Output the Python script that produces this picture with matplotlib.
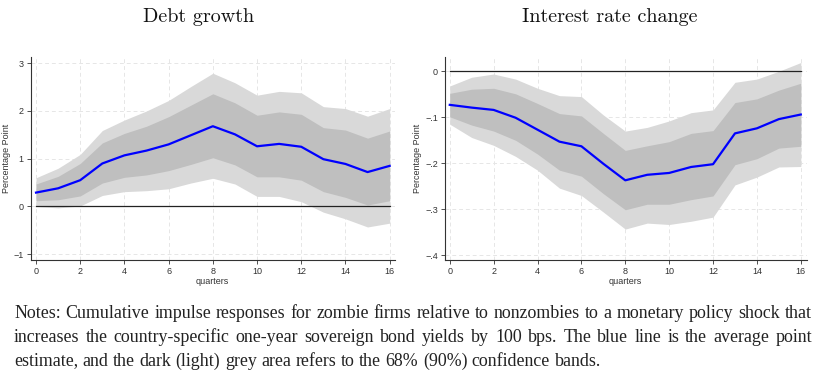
import matplotlib
matplotlib.use('Agg')
import matplotlib.pyplot as plt
import numpy as np

plt.rcParams['font.family'] = ['Liberation Sans', 'DejaVu Sans']

quarters = np.arange(17)

# Debt growth (left panel)
debt_irf = [0.29, 0.38, 0.55, 0.90, 1.07, 1.17, 1.30, 1.49, 1.68, 1.51, 1.26, 1.31, 1.25, 0.99, 0.89, 0.72, 0.85]
debt_hi68 = [0.47, 0.63, 0.90, 1.33, 1.53, 1.68, 1.88, 2.12, 2.36, 2.17, 1.91, 1.98, 1.93, 1.65, 1.60, 1.43, 1.58]
debt_lo68 = [0.12, 0.14, 0.22, 0.49, 0.61, 0.66, 0.75, 0.88, 1.02, 0.87, 0.62, 0.62, 0.55, 0.31, 0.19, 0.03, 0.12]
debt_hi90 = [0.60, 0.80, 1.09, 1.59, 1.81, 2.00, 2.22, 2.51, 2.79, 2.59, 2.33, 2.41, 2.38, 2.09, 2.05, 1.89, 2.05]
debt_lo90 = [0.00, -0.03, 0.01, 0.23, 0.31, 0.33, 0.37, 0.49, 0.59, 0.47, 0.21, 0.21, 0.10, -0.12, -0.26, -0.43, -0.35]

# Interest rate change (right panel)
rate_irf = [-0.073, -0.079, -0.084, -0.101, -0.127, -0.153, -0.163, -0.201, -0.237, -0.225, -0.221, -0.208, -0.202, -0.135, -0.124, -0.104, -0.094]
rate_hi68 = [-0.048, -0.039, -0.037, -0.049, -0.070, -0.092, -0.097, -0.135, -0.172, -0.162, -0.153, -0.135, -0.129, -0.068, -0.060, -0.041, -0.026]
rate_lo68 = [-0.099, -0.117, -0.130, -0.150, -0.180, -0.215, -0.228, -0.266, -0.301, -0.289, -0.289, -0.279, -0.271, -0.203, -0.190, -0.167, -0.163]
rate_hi90 = [-0.032, -0.013, -0.006, -0.017, -0.037, -0.053, -0.055, -0.095, -0.130, -0.122, -0.108, -0.090, -0.084, -0.024, -0.017, 0.000, 0.019]
rate_lo90 = [-0.115, -0.144, -0.161, -0.185, -0.215, -0.254, -0.270, -0.306, -0.343, -0.330, -0.333, -0.326, -0.317, -0.247, -0.230, -0.208, -0.207]

notes_lines = [
    "Notes: Cumulative impulse responses for zombie firms relative to nonzombies to a monetary policy shock that",
    "increases the country-specific one-year sovereign bond yields by 100 bps. The blue line is the average point",
    "estimate, and the dark (light) grey area refers to the 68% (90%) confidence bands.",
]

LIGHT = '#d9d9d9'
DARK = '#bfbfbf'
BLUE = '#0000ff'
W, H = 819, 380

fig = plt.figure(figsize=(W / 100, H / 100), dpi=100)


def draw_panel(ax, irf, lo68, hi68, lo90, hi90, yticks, yticklabels, ylim, xlim, title, title_x):
    ax.fill_between(quarters, lo90, hi90, color=LIGHT, linewidth=0, zorder=1)
    ax.fill_between(quarters, lo68, hi68, color=DARK, linewidth=0, zorder=2)
    ax.plot([0, 16], [0, 0], color='#222222', linewidth=0.9, zorder=3)
    ax.plot(quarters, irf, color=BLUE, linewidth=1.6, zorder=4)
    ax.set_xlim(*xlim)
    ax.set_ylim(*ylim)
    ax.set_xticks(range(0, 17, 2))
    ax.set_yticks(yticks)
    ax.set_yticklabels(yticklabels)
    ax.grid(True, color='#e6e6e6', linestyle=(0, (4, 3)), linewidth=0.7, zorder=0)
    ax.set_axisbelow(True)
    for s in ['top', 'right']:
        ax.spines[s].set_visible(False)
    for s in ['left', 'bottom']:
        ax.spines[s].set_color('#333333')
        ax.spines[s].set_linewidth(0.8)
    ax.tick_params(labelsize=6.5, length=3, width=0.6, color='#333333', pad=2, labelcolor='#333333')
    ax.set_xlabel('quarters', fontsize=6.5, labelpad=1, color='#333333')
    ax.set_ylabel('Percentage Point', fontsize=6.5, labelpad=2, color='#333333')
    fig.text(title_x / W, 1 - 17 / H, title, fontsize=14.5, family='cmr10',
             ha='center', va='center', color='#111111')


ax1 = fig.add_axes([0.0375, 0.316, 0.4445, 0.534])
draw_panel(ax1, debt_irf, debt_lo68, debt_hi68, debt_lo90, debt_hi90,
           [-1, 0, 1, 2, 3], ['\u22121', '0', '1', '2', '3'], (-1.12, 3.13), (-0.24, 16.23),
           'Debt growth', 198.5)

ax2 = fig.add_axes([0.543, 0.316, 0.442, 0.534])
draw_panel(ax2, rate_irf, rate_lo68, rate_hi68, rate_lo90, rate_hi90,
           [-0.4, -0.3, -0.2, -0.1, 0], ['\u2212.4', '\u2212.3', '\u2212.2', '\u2212.1', '0'],
           (-0.41, 0.031), (-0.23, 16.27), 'Interest rate change', 610)

# justified notes text
renderer = fig.canvas.get_renderer()
left_px, right_px = 14, 812
line_y = [313, 337, 361]

# pick a size so the first line's natural width nearly fills the text block
probe = fig.text(0, 0, notes_lines[0], fontsize=10, family='Liberation Serif')
fs = 10 * (right_px - left_px - 8) / probe.get_window_extent(renderer).width
probe.remove()

sp_probe = fig.text(0, 0, 'a a', fontsize=fs, family='Liberation Serif')
aa_probe = fig.text(0, 0, 'aa', fontsize=fs, family='Liberation Serif')
sp = sp_probe.get_window_extent(renderer).width - aa_probe.get_window_extent(renderer).width
sp_probe.remove()
aa_probe.remove()

for i, line in enumerate(notes_lines):
    words = line.split(' ')
    y = 1 - line_y[i] / H
    texts = [fig.text(0, y, w, fontsize=fs, family='Liberation Serif', color='#222222', va='center')
             for w in words]
    widths = [t.get_window_extent(renderer).width for t in texts]
    if i < len(notes_lines) - 1:
        gap = (right_px - left_px - sum(widths)) / (len(words) - 1)
    else:
        gap = sp
    x = left_px
    for t, w in zip(texts, widths):
        t.set_x(x / W)
        x += w + gap

fig.savefig('out.png', dpi=100)
